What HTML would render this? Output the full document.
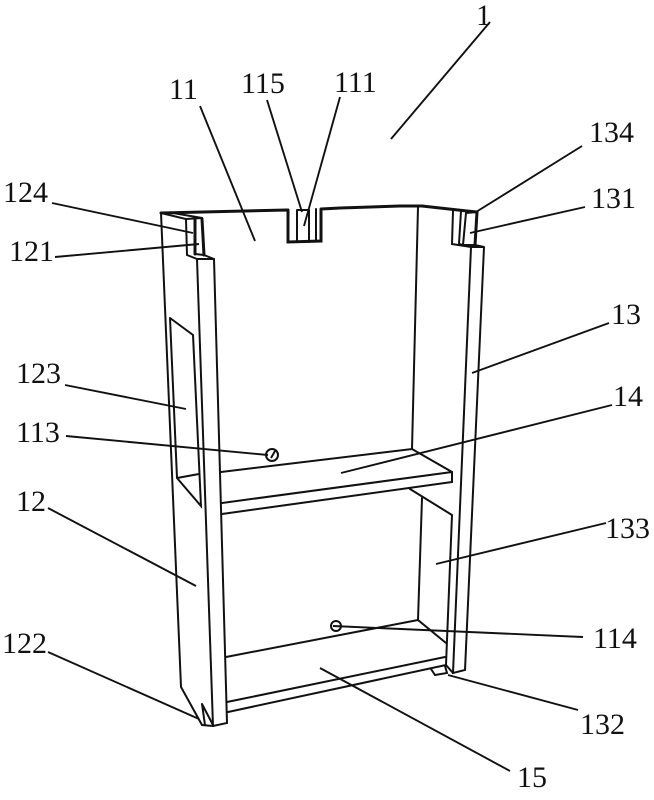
<!DOCTYPE html>
<html>
<head>
<meta charset="utf-8">
<style>
html,body{margin:0;padding:0;background:#fff;width:654px;height:800px;overflow:hidden}
svg{display:block}
text{font-family:"Liberation Serif",serif;font-size:30px;fill:#111}
.s{fill:none;stroke:#111;stroke-width:2;stroke-linejoin:miter;stroke-linecap:round}
.h{fill:none;stroke:#111;stroke-width:3;stroke-linecap:round}
.l{fill:none;stroke:#111;stroke-width:1.9;stroke-linecap:butt}
</style>
</head>
<body>
<svg width="654" height="800" viewBox="0 0 654 800" xmlns="http://www.w3.org/2000/svg">
<!-- top edge + centre slot -->
<path class="h" d="M161 213L287 210M288 210V242L321 241V209M321 209L340 208L400 206L422 206L467 211L477 212"/>
<path class="s" d="M297 211V242M309 210V242M297 210H309M316 209V241"/>
<!-- left panel -->
<path class="s" d="M161 213L181 687L202 725L213 726L227 723L214 259L204 255"/>
<path class="s" d="M161 213L186 219L187 255L197 259L213 726"/>
<path class="s" d="M197 259H214M173 213L202 218L204 255L195 254"/>
<path class="h" d="M195 220V254M202 219L204 255"/>
<path class="s" d="M186 219L202 218"/>
<!-- window -->
<path class="s" d="M170 318L193 335L201 506L177 478L170 318M177 478L199 474"/>
<!-- foot left -->
<path class="s" d="M202 704L205 725M202 704L213 725"/>
<!-- back corner and rear right -->
<path class="s" d="M418 207L412 449"/>
<!-- right slot -->
<path class="h" d="M477 212L475 245"/>
<path class="s" d="M453 211L452 244L471 247H484L475 245L463 245M461 211L459 244L471 247M466 213L463 245M466 213L477 212"/>
<!-- right panel -->
<path class="s" d="M471 247L453 673L465 670L484 247"/>
<!-- shelf 14 -->
<path class="s" d="M221 472L412 449L452 472V482L222 514M222 503L452 472"/>
<!-- right back lower panel -->
<path class="s" d="M410 489L452 515L446 665L453 673M422 498L418 620L446 643"/>
<!-- bottom shelf 15 -->
<path class="s" d="M226 657L418 620M227 702L445 657M228 712L446 665"/>
<path class="s" d="M431 669L435 675L447 673L445 666"/>
<!-- holes -->
<circle class="s" cx="272" cy="455" r="6"/>
<path class="l" d="M271 458L275 451"/>
<circle class="s" cx="336" cy="626" r="5"/>
<!-- leaders -->
<path class="l" d="M490 22L391 139M200 106L255 241M267 100L302 212M340 97L304 226M52 203L193 233M55 257L199 244M65 385L186 409M66 436L268 455M48 508L196 586M48 652L199 719M582 146L476 212M585 207L470 233M609 323L472 373M612 405L341 473M606 523L436 564M583 637L333 626M578 710L448 675M510 771L320 668"/>
<!-- labels -->
<text x="476" y="25">1</text>
<text x="169" y="99">11</text>
<text x="241" y="93">115</text>
<text x="334" y="92">111</text>
<text x="3" y="202">124</text>
<text x="9" y="261">121</text>
<text x="16" y="383">123</text>
<text x="16" y="442">113</text>
<text x="16" y="511">12</text>
<text x="2" y="653">122</text>
<text x="589" y="142">134</text>
<text x="591" y="208">131</text>
<text x="611" y="324">13</text>
<text x="613" y="406">14</text>
<text x="605" y="538">133</text>
<text x="593" y="648">114</text>
<text x="580" y="734">132</text>
<text x="517" y="787">15</text>
</svg>
</body>
</html>
